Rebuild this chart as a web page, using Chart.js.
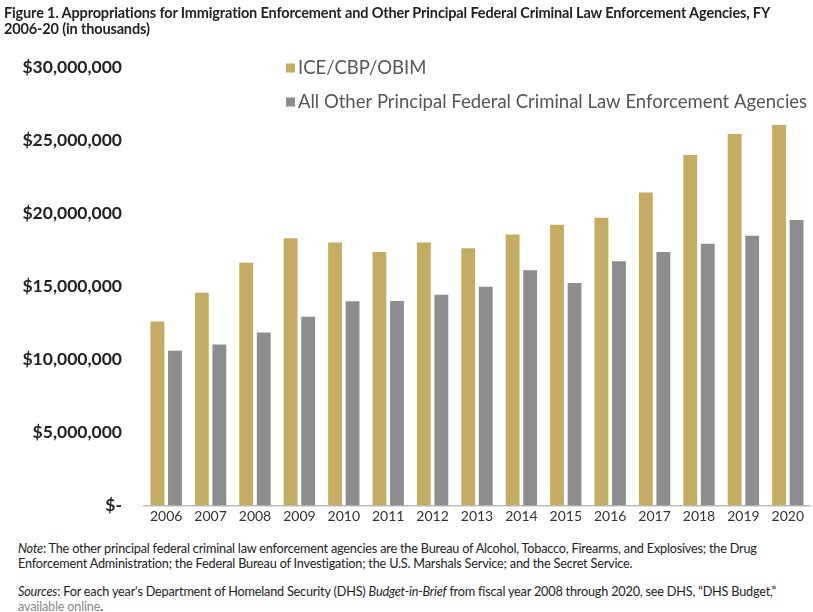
<!DOCTYPE html>
<html>
<head>
<meta charset="utf-8">
<script src="https://cdn.jsdelivr.net/npm/chart.js@4.4.0/dist/chart.umd.min.js"></script>
<style>
  body { margin: 0; background: #fff; width: 813px; height: 612px; position: relative; overflow: hidden; }
  #titulo { position: absolute; left: 4px; top: 5px; width: 809px; white-space: nowrap; font: bold 14.5px Lato, sans-serif; letter-spacing: -0.15px; color: #222; line-height: 16px; z-index: 2; }
  #caja { position: absolute; left: 0; top: 35px; width: 813px; height: 503px; }
  .nota { position: absolute; left: 18px; width: 790px; font: 12.7px Lato, sans-serif; letter-spacing: -0.2px; color: #222; line-height: 15px; }
  .gris { color: #888; }
</style>
</head>
<body>
<div id="titulo">Figure 1. Appropriations for Immigration Enforcement and Other Principal Federal Criminal Law Enforcement Agencies, FY<br>2006-20 (in thousands)</div>
<div id="caja"><canvas id="grafica"></canvas></div>
<div class="nota" style="top:541px"><i>Note</i>: The other principal federal criminal law enforcement agencies are the Bureau of Alcohol, Tobacco, Firearms, and Explosives; the Drug<br>Enforcement Administration; the Federal Bureau of Investigation; the U.S. Marshals Service; and the Secret Service.</div>
<div class="nota" style="top:584px"><i>Sources</i>: For each year's Department of Homeland Security (DHS) <i>Budget-in-Brief</i> from fiscal year 2008 through 2020, see DHS, &ldquo;DHS Budget,&rdquo;<br><span class="gris">available online</span>.</div>
<script>
// años fiscales
const anios = ['2006','2007','2008','2009','2010','2011','2012','2013','2014','2015','2016','2017','2018','2019','2020'];
// miles de dólares
const iceCbpObim = [12600000, 14580000, 16630000, 18300000, 18020000, 17360000, 18020000, 17620000, 18570000, 19230000, 19710000, 21440000, 24010000, 25450000, 26060000];
const otrasAgencias = [10600000, 11030000, 11850000, 12920000, 13990000, 14000000, 14440000, 14990000, 16110000, 15240000, 16730000, 17360000, 17930000, 18480000, 19550000];
const etiquetas = ['ICE/CBP/OBIM', 'All Other Principal Federal Criminal Law Enforcement Agencies'];
const ticksY = [0, 5000000, 10000000, 15000000, 20000000, 25000000, 30000000];

const colorOro = '#C4AC62';
const colorGris = '#8D8D8D';

// leyenda apilada dentro del area del grafico
const leyendaPropia = {
  id: 'leyendaPropia',
  afterDraw(chart) {
    const ctx = chart.ctx;
    const x0 = 286;
    const yTop = chart.scales.y.getPixelForValue(30000000);
    const ys = [yTop, yTop + 34];
    ctx.save();
    ctx.font = '18.5px Lato';
    ctx.textBaseline = 'middle';
    chart.data.datasets.forEach(function(ds, i) {
      ctx.fillStyle = ds.backgroundColor;
      ctx.fillRect(x0, ys[i] - 4, 9, 9);
      ctx.fillStyle = '#555';
      ctx.fillText(ds.label, x0 + 12, ys[i] + 1);
    });
    ctx.restore();
  }
};

const ctx = document.getElementById('grafica');
const chart = new Chart(ctx, {
  type: 'bar',
  data: {
    labels: anios,
    datasets: [{
      label: etiquetas[0],
      data: iceCbpObim,
      backgroundColor: colorOro,
      categoryPercentage: 0.79,
      barPercentage: 0.79
    }, {
      label: etiquetas[1],
      data: otrasAgencias,
      backgroundColor: colorGris,
      categoryPercentage: 0.79,
      barPercentage: 0.79
    }]
  },
  options: {
    responsive: true,
    maintainAspectRatio: false,
    animation: false,
    layout: { padding: { top: 7, right: 3, bottom: 0, left: 0 } },
    plugins: {
      legend: { display: false },
      tooltip: { enabled: false }
    },
    scales: {
      x: {
        grid: { display: false, drawTicks: false },
        border: { color: '#BBBBBB', width: 1.5 },
        ticks: { color: '#333', font: { family: 'Lato', size: 14 }, padding: 3 }
      },
      y: {
        min: 0,
        max: 30000000,
        afterFit: function(scale) { scale.width = 144; },
        afterBuildTicks: function(scale) { scale.ticks = ticksY.map(v => ({ value: v })); },
        grid: { display: false, drawTicks: false },
        border: { display: false },
        ticks: {
          color: '#222',
          padding: 22,
          font: { family: 'Lato', size: 17.5, weight: 'bold' },
          callback: function(v) { return v === 0 ? '$-' : '$' + v.toLocaleString('en-US'); }
        }
      }
    }
  },
  plugins: [leyendaPropia]
});
</script>
</body>
</html>
